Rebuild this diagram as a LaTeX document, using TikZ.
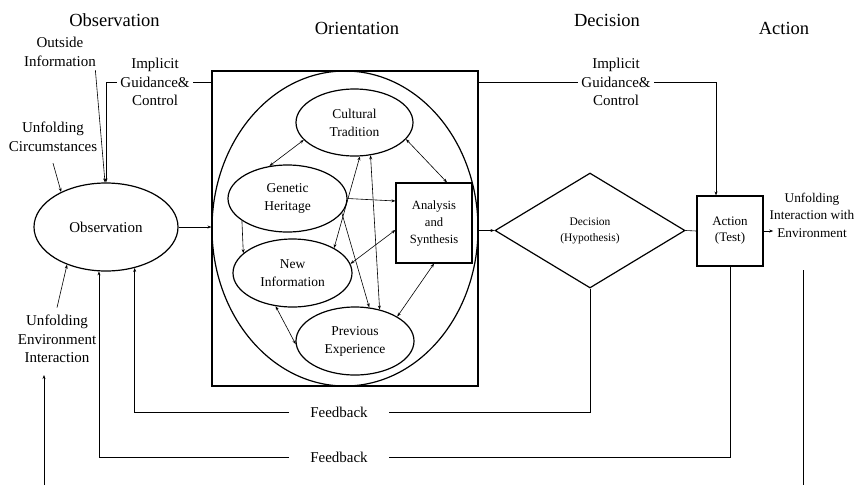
\documentclass[tikz,border=0pt]{standalone}
\usepackage{fontspec}
\setmainfont{Liberation Serif}
\usetikzlibrary{shapes.geometric}
\usetikzlibrary{arrows.meta}
\usetikzlibrary{calc}

\begin{document}
\begin{tikzpicture}[x=1pt,y=-1pt,
    >={Stealth[length=4pt,width=3pt]},
    blob/.style={draw,ellipse,line width=1.2pt,inner sep=0pt,align=center},
    box/.style={draw,rectangle,line width=1.2pt,inner sep=0pt,align=center},
    lbl/.style={align=center,font=\fontsize{15}{18.5}\selectfont},
    head/.style={font=\fontsize{18.5}{22}\selectfont},
    small/.style={font=\fontsize{13.5}{18}\selectfont},
    link/.style={line width=0.6pt}]
\useasboundingbox (0,0) rectangle (858,485);

    % Headings
    \node[head] (hobs) at (114.5,20) {Observation};
    \node[head] (hori) at (357,28) {Orientation};
    \node[head] (hdec) at (607,20) {Decision};
    \node[head] (hact) at (784,28) {Action};

    % Observation side
    \node[lbl] (outside) at (60,52) {Outside\\Information};
    \node[lbl] (circum) at (53,137) {Unfolding\\Circumstances};
    \node[lbl] (envint) at (57,339) {Unfolding\\Environment\\Interaction};
    \node[lbl] (guideL) at (155,82) {Implicit\\Guidance\&\\Control};
    \node[blob,minimum width=144,minimum height=88,font=\fontsize{15}{19}\selectfont] (obs) at (106,227) {Observation};

    % Orientation: box, big oval and the five parts
    \node[box,minimum width=266,minimum height=315] (orient) at (345,228.5) {};
    \node[blob,minimum width=266,minimum height=315] (orientoval) at (345,228.5) {};
    \node[blob,small,minimum width=117,minimum height=67] (cult) at (354.5,122.5) {Cultural\\Tradition};
    \node[blob,small,minimum width=119,minimum height=67] (gene) at (287.5,198.5) {Genetic\\Heritage};
    \node[blob,small,minimum width=119,minimum height=68] (newinfo) at (292.5,273) {New\\Information};
    \node[blob,small,minimum width=118,minimum height=68] (prev) at (355,341) {Previous\\Experience};
    \node[box,minimum width=76,minimum height=80,font=\fontsize{12.6}{17}\selectfont] (anal) at (434,223) {Analysis\\and\\Synthesis};

    % Decision and action
    \node[lbl] (guideR) at (616,82) {Implicit\\Guidance\&\\Control};
    \node[draw,diamond,line width=1.2pt,inner sep=0pt,minimum width=190,minimum height=115,align=center,font=\fontsize{11.5}{16}\selectfont] (dec) at (590,230.5) {Decision\\(Hypothesis)};
    \node[box,minimum width=66,minimum height=70,font=\fontsize{13}{16}\selectfont] (act) at (730,231) {Action\\(Test)};
    \node[align=center,font=\fontsize{13.3}{17.5}\selectfont] (unf) at (812,215) {Unfolding\\Interaction with\\Environment};

    % Feedback labels
    \node[lbl,inner xsep=21pt] (fb1) at (339,412) {Feedback};
    \node[lbl,inner xsep=21pt] (fb2) at (339,457) {Feedback};

    \coordinate (ltop) at (44,375);
    \coordinate (lbot) at (44,485);
    \coordinate (rtop) at (803,270);
    \coordinate (rbot) at (803,485);

    % Into observation
    \draw[link,->] ([xshift=-4pt]outside.south east) -- ([xshift=-1pt]obs.north);
    \draw[link,->] ([yshift=-8pt]circum.south) -- (obs.142);
    \draw[link,->] ([yshift=4pt]envint.north) -- (obs.-136);
    \draw[link,->] (lbot) -- (ltop);
    \draw[link] (orient.west |- guideL.east) -- (guideL.east);
    \draw[link,->] (guideL.west) -| (obs.north);
    \draw[link,->] (obs.east) -- (orient.west |- obs.east);

    % Inside orientation
    \draw[link,<->] (gene.119) -- (cult.-161);
    \draw[link,<->] (cult.-18) -- ([xshift=13pt]anal.north);
    \draw[link,->] (gene.east) -- ([yshift=22pt]anal.west);
    \draw[link,->] (gene.206) -- (newinfo.158);
    \draw[link,<->] (newinfo.31) -- (cult.-81);
    \draw[link,<->] (cult.-64) -- (prev.52);
    \draw[link,->] (gene.-15) -- (prev.67);
    \draw[link,<->] (newinfo.9) -- ([yshift=-7pt]anal.west);
    \draw[link,<->] (anal.south) -- (prev.30);
    \draw[link,<->] (newinfo.-117) -- (prev.-177);

    % Decision and action
    \draw[link,->] (orient.east |- dec.west) -- (dec.west);
    \draw[link] (dec.east) -- (act.west);
    \draw[link] (orient.east |- guideR.west) -- (guideR.west);
    \draw[link,->] (guideR.east) -| ([xshift=-14pt]act.north);
    \draw[link,->] (act.east) -- ([xshift=7pt]act.east -| unf.west);
    \draw[link] (rtop) -- (rbot);

    % Feedback loops
    \draw[link] (dec.south) |- (fb1.east);
    \draw[link,->] (fb1.west) -| (obs.-55);
    \draw[link] (act.south) |- (fb2.east);
    \draw[link,->] (fb2.west) -| (obs.-99);
\end{tikzpicture}
\end{document}
